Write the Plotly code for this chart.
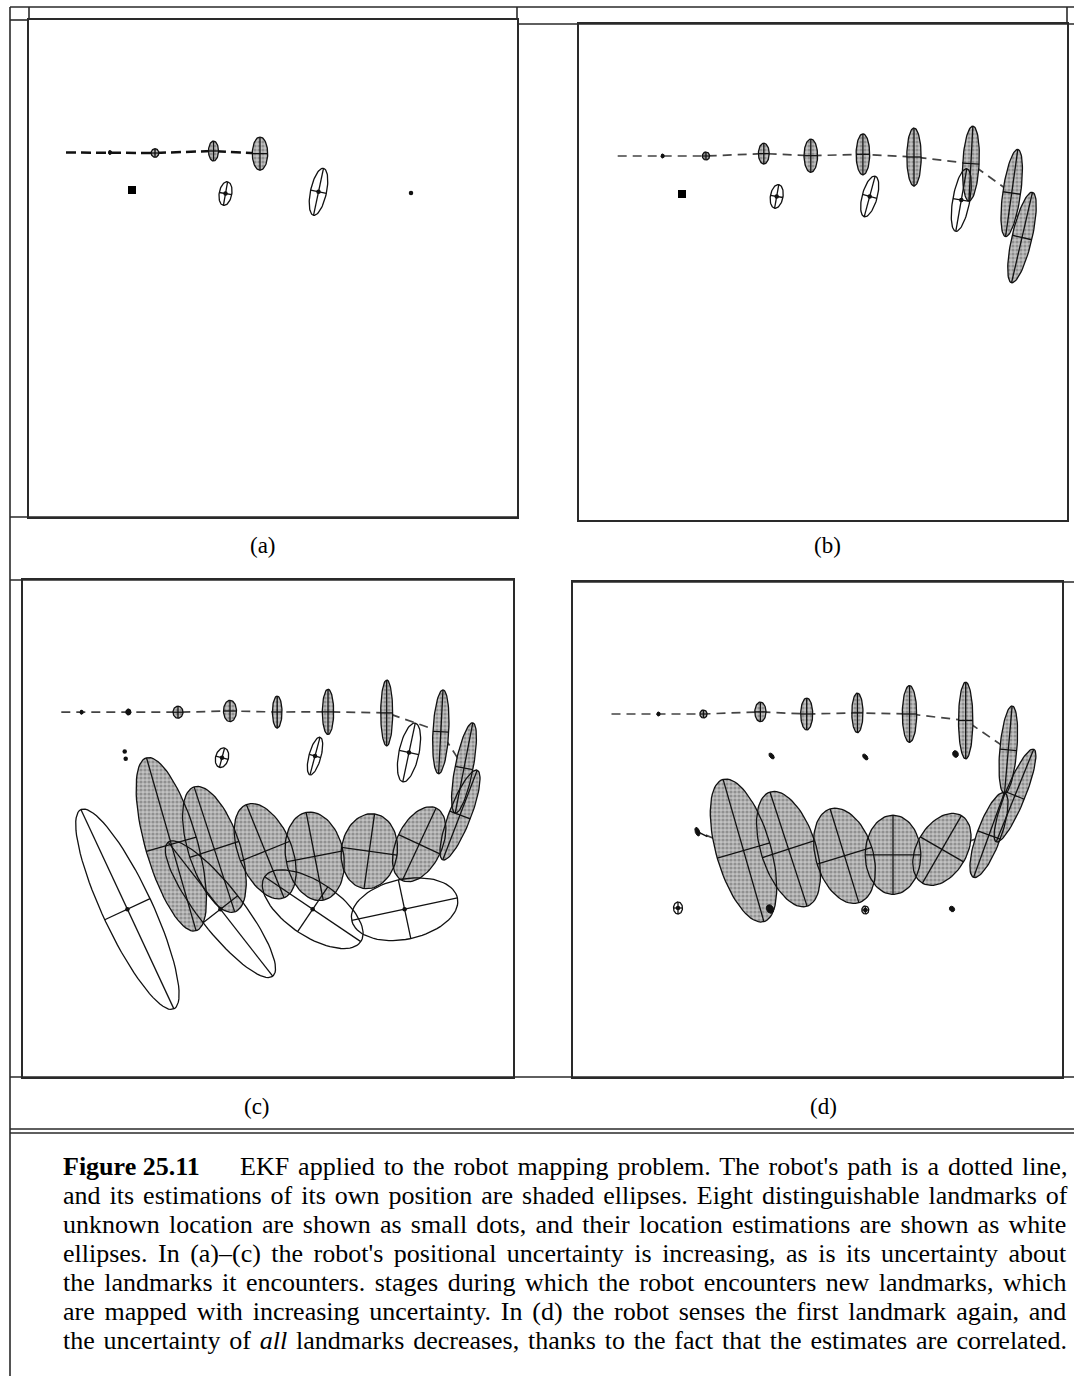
import numpy as np
import plotly.graph_objects as go

W, H = 1074, 1376

# ---- panel (a): robot pose ellipses (centre x/y, semi-axes, tilt of major axis from vertical, deg)
A_PATH_X0, A_PATH_Y0 = 37, 132.5
A_ROBOT_X = [81, 126, 184.5, 231]
A_ROBOT_Y = [132.5, 133, 131, 133.6]
A_ROBOT_A = [1.8, 4.3, 10, 16.6]
A_ROBOT_B = [1.4, 3.8, 5, 7.7]
A_ROBOT_ANG = [0, 0, 0, 0]
# landmark estimates (white ellipses)
A_EST_X = [196.5, 289.5]
A_EST_Y = [173.6, 171.8]
A_EST_A = [12, 24]
A_EST_B = [6.3, 8]
A_EST_ANG = [10, 12]
A_DOT_X = [196.5, 289.5, 382]
A_DOT_Y = [173.6, 171.8, 173]
A_SQ_X, A_SQ_Y = [103], [170]

# ---- panel (b)
B_PATH_X0, B_PATH_Y0 = 38.7, 132
B_ROBOT_X = [83.6, 127, 184.8, 231.8, 283.9, 335, 391.9, 432.7, 443]
B_ROBOT_Y = [132, 132, 129.6, 131.7, 130.3, 133, 139.6, 169, 213.5]
B_ROBOT_A = [1.8, 4, 10.4, 16.6, 20.5, 29, 37.5, 44, 46.4]
B_ROBOT_B = [1.4, 3.6, 5.4, 6.8, 6.8, 7.2, 8.2, 8.9, 10]
B_ROBOT_ANG = [0, 0, 0, 0, 0, 0, 3, 8, 13]
B_EST_X = [197.7, 290.7, 382.3]
B_EST_Y = [172.4, 172.4, 176]
B_EST_A = [12, 21, 31.8]
B_EST_B = [6.3, 7.5, 8.5]
B_EST_ANG = [10, 15, 10]
B_DOT_X = [197.7, 290.7, 382.3]
B_DOT_Y = [172.4, 172.4, 176]
B_SQ_X, B_SQ_Y = [103], [170]

# ---- panel (c)
C_PATH_X0, C_PATH_Y0 = 38.3, 132.2
C_ROBOT_X = [58.6, 105.4, 155, 207, 254.2, 305, 363.7, 417.8, 441, 437,
             396.2, 346.3, 291.7, 242.2, 191.4, 148.3]
C_ROBOT_Y = [132.2, 132, 132.2, 131, 132, 131.9, 132.9, 151.8, 188, 235,
             264.3, 271.2, 276.3, 271.2, 269.4, 264.3]
C_ROBOT_A = [1.8, 2.8, 6, 10.7, 16, 22.7, 33, 42, 46, 48,
             40, 37.7, 44.7, 50.3, 65.7, 90]
C_ROBOT_B = [1.4, 2.4, 5, 6.5, 4.8, 5.7, 6, 7.9, 9, 11,
             22.8, 28, 28.9, 26.6, 25.8, 26]
C_ROBOT_ANG = [0, 0, 0, 0, 0, 0, 0, 3, 11, 21, 25, 8, -11, -22, -18, -16]
C_EST_X = [199, 292, 386, 104.4, 197.4, 289.7, 381.6]
C_EST_Y = [177.7, 176, 172.5, 329.2, 329.2, 329.2, 329.2]
C_EST_A = [10, 19.5, 30, 110, 85, 58, 54]
C_EST_B = [6.4, 6, 10, 25, 22, 27, 30]
C_EST_ANG = [15, 15, 12, -25, -38, -56, 78]
C_DOT_X = [101.7, 102.7, 199, 292, 386, 104.4, 197.4, 289.7, 381.6]
C_DOT_Y = [171.5, 178.7, 177.7, 176, 172.5, 329.2, 329.2, 329.2, 329.2]

# ---- panel (d)
D_PATH_X0, D_PATH_Y0 = 38.5, 132
D_ROBOT_X = [85.5, 130.5, 187.4, 233.7, 284.4, 336.5, 392.7, 435.3, 442, 416,
             368.9, 320, 271.5, 215.5, 170.5]
D_ROBOT_Y = [132, 132, 129.9, 132, 130.9, 132, 138.5, 167.8, 213.5, 253,
             267.4, 272.8, 273.8, 267.1, 268.5]
D_ROBOT_A = [1.8, 4, 9.8, 16, 19.8, 28.4, 38.4, 44, 50, 45, 39, 39.6, 49, 60, 74]
D_ROBOT_B = [1.4, 3.6, 5.6, 6, 5.6, 7.2, 7.2, 8.5, 10, 12, 25, 27.8, 28.6, 27.4, 27.3]
D_ROBOT_ANG = [0, 0, 0, 0, 0, 0, 0, 5, 22, 20, 30, 0, -17, -18, -16]
D_END_X, D_END_Y = 124.4, 249.7
D_EST_X = [105, 292.3]
D_EST_Y = [326, 328]
D_EST_A = [6, 4]
D_EST_B = [4.5, 3.5]
D_EST_ANG = [0, 0]
D_DARK_X = [198.6, 292.3, 382.5, 197, 379, 124.4]
D_DARK_Y = [174, 175, 172, 327, 327, 249.7]
D_DARK_A = [3.5, 3.5, 3.5, 4.5, 3, 4.5]
D_DARK_B = [2, 2, 2.8, 3.5, 2.5, 2.2]
D_DARK_ANG = [-40, -40, -20, -30, -40, -20]
D_DOT_X = [105, 292.3]
D_DOT_Y = [326, 328]

CAPTION_HEAD = "EKF applied to the robot mapping problem. The robot's path is a dotted line,"
CAPTION = [
    "and its estimations of its own position are shaded ellipses. Eight distinguishable landmarks of",
    "unknown location are shown as small dots, and their location estimations are shown as white",
    "ellipses. In (a)\u2013(c) the robot's positional uncertainty is increasing, as is its uncertainty about",
    "the landmarks it encounters. stages during which the robot encounters new landmarks, which",
    "are mapped with increasing uncertainty. In (d) the robot senses the first landmark again, and",
    "the uncertainty of <i>all</i> landmarks decreases, thanks to the fact that the estimates are correlated.",
]
# extra px per word gap so the lines come out justified like the printed caption
HEAD_SPACING = 2.5
LINE_SPACING = [2.5, 2.7, 4.0, 3.0, 3.3, 2.3]


def ellipse(cx, cy, a, b, ang, n=80):
    t = np.linspace(0, 2 * np.pi, n)
    th = np.radians(ang)
    # major axis direction on screen (y grows downward), minor axis perpendicular
    ux, uy = np.sin(th), -np.cos(th)
    vx, vy = np.cos(th), np.sin(th)
    return cx + a * np.cos(t) * ux + b * np.sin(t) * vx, cy + a * np.cos(t) * uy + b * np.sin(t) * vy


def cross(cx, cy, a, b, ang):
    th = np.radians(ang)
    ux, uy = np.sin(th), -np.cos(th)
    vx, vy = np.cos(th), np.sin(th)
    return [([cx - a * ux, cx + a * ux], [cy - a * uy, cy + a * uy]),
            ([cx - b * vx, cx + b * vx], [cy - b * vy, cy + b * vy])]


def joined(parts):
    xs, ys = [], []
    for x, y in parts:
        xs += list(x) + [None]
        ys += list(y) + [None]
    return xs, ys


boxes = {'a': (29, 517, 20, 517), 'b': (579, 1067, 24, 520),
         'c': (23, 513, 580, 1077), 'd': (573, 1062, 582, 1077)}

panels = [
    dict(key='a', path0=(A_PATH_X0, A_PATH_Y0),
         robot=list(zip(A_ROBOT_X, A_ROBOT_Y, A_ROBOT_A, A_ROBOT_B, A_ROBOT_ANG)),
         est=list(zip(A_EST_X, A_EST_Y, A_EST_A, A_EST_B, A_EST_ANG)),
         dots=(A_DOT_X, A_DOT_Y), sq=(A_SQ_X, A_SQ_Y), dark=[], end=None,
         dash=dict(color='#111', width=2.5, dash='10px,5px')),
    dict(key='b', path0=(B_PATH_X0, B_PATH_Y0),
         robot=list(zip(B_ROBOT_X, B_ROBOT_Y, B_ROBOT_A, B_ROBOT_B, B_ROBOT_ANG)),
         est=list(zip(B_EST_X, B_EST_Y, B_EST_A, B_EST_B, B_EST_ANG)),
         dots=(B_DOT_X, B_DOT_Y), sq=(B_SQ_X, B_SQ_Y), dark=[], end=None,
         dash=dict(color='#444', width=1.7, dash='9px,6px')),
    dict(key='c', path0=(C_PATH_X0, C_PATH_Y0),
         robot=list(zip(C_ROBOT_X, C_ROBOT_Y, C_ROBOT_A, C_ROBOT_B, C_ROBOT_ANG)),
         est=list(zip(C_EST_X, C_EST_Y, C_EST_A, C_EST_B, C_EST_ANG)),
         dots=(C_DOT_X, C_DOT_Y), sq=([], []), dark=[], end=None,
         dash=dict(color='#444', width=1.7, dash='9px,6px')),
    dict(key='d', path0=(D_PATH_X0, D_PATH_Y0),
         robot=list(zip(D_ROBOT_X, D_ROBOT_Y, D_ROBOT_A, D_ROBOT_B, D_ROBOT_ANG)),
         est=list(zip(D_EST_X, D_EST_Y, D_EST_A, D_EST_B, D_EST_ANG)),
         dots=(D_DOT_X, D_DOT_Y), sq=([], []),
         dark=list(zip(D_DARK_X, D_DARK_Y, D_DARK_A, D_DARK_B, D_DARK_ANG)),
         end=(D_END_X, D_END_Y),
         dash=dict(color='#444', width=1.7, dash='9px,6px')),
]

fig = go.Figure()
layout_axes = {}

for i, p in enumerate(panels):
    sfx = '' if i == 0 else str(i + 1)
    xa, ya = 'x' + sfx, 'y' + sfx
    x0, x1, y0, y1 = boxes[p['key']]

    # robot path (dashed), through the pose estimates
    px = [p['path0'][0]] + [r[0] for r in p['robot']]
    py = [p['path0'][1]] + [r[1] for r in p['robot']]
    if p['end']:
        px.append(p['end'][0])
        py.append(p['end'][1])
    fig.add_trace(go.Scatter(x=px, y=py, mode='lines', line=p['dash'],
                             xaxis=xa, yaxis=ya, hoverinfo='skip'))

    # shaded pose ellipses
    fx, fy = joined([ellipse(*r) for r in p['robot']])
    fig.add_trace(go.Scatter(x=fx, y=fy, mode='lines', fill='toself',
                             fillcolor='#b4b4b4',
                             fillpattern=dict(shape='.', fgcolor='#5e5e5e', bgcolor='#c2c2c2',
                                              size=4, solidity=0.5),
                             line=dict(width=0), xaxis=xa, yaxis=ya, hoverinfo='skip'))

    # dark small blobs (tiny early poses print as solid specks)
    dark = p['dark'] + [r for r in p['robot'] if r[2] < 3]
    if dark:
        kx, ky = joined([ellipse(*r) for r in dark])
        fig.add_trace(go.Scatter(x=kx, y=ky, mode='lines', fill='toself', fillcolor='#111',
                                 line=dict(color='#111', width=1), xaxis=xa, yaxis=ya,
                                 hoverinfo='skip'))

    # outlines and principal axes of all ellipses
    parts = []
    for r in p['robot'] + p['est']:
        parts.append(ellipse(*r))
        if r[2] > 3:
            parts += cross(*r)
    ox, oy = joined(parts)
    fig.add_trace(go.Scatter(x=ox, y=oy, mode='lines', line=dict(color='#111', width=1.3),
                             xaxis=xa, yaxis=ya, hoverinfo='skip'))
    if p['end']:
        fig.add_trace(go.Scatter(x=[p['end'][0], p['end'][0] + 10], y=[p['end'][1], p['end'][1] + 5],
                                 mode='lines', line=dict(color='#111', width=1.5),
                                 xaxis=xa, yaxis=ya, hoverinfo='skip'))

    # landmark dots and squares
    fig.add_trace(go.Scatter(x=p['dots'][0], y=p['dots'][1], mode='markers',
                             marker=dict(color='#111', size=4.5), xaxis=xa, yaxis=ya,
                             hoverinfo='skip'))
    if p['sq'][0]:
        fig.add_trace(go.Scatter(x=p['sq'][0], y=p['sq'][1], mode='markers',
                                 marker=dict(color='#000', size=8, symbol='square'),
                                 xaxis=xa, yaxis=ya, hoverinfo='skip'))

    ax = dict(showgrid=False, zeroline=False, showticklabels=False, ticks='',
              showline=True, mirror=True, linecolor='#2a2a2a', linewidth=1.6, fixedrange=True)
    layout_axes['xaxis' + sfx] = dict(ax, domain=[x0 / W, x1 / W], range=[0, x1 - x0], anchor=ya)
    layout_axes['yaxis' + sfx] = dict(ax, domain=[1 - y1 / H, 1 - y0 / H], range=[y1 - y0, 0], anchor=xa)

fig.update_layout(**layout_axes)

# frame rules of the printed figure (pixel positions -> paper)
hlines = [(10, 1074, 7), (10, 29, 20), (517, 1074, 24), (10, 517, 517), (10, 513, 580),
          (573, 1074, 582), (10, 1074, 1077), (10, 1074, 1129), (10, 1074, 1133)]
vlines = [(10, 7, 1376), (29, 7, 20), (517, 7, 20), (1067, 7, 24)]
shapes = []
for xa_, xb_, yy in hlines:
    shapes.append(dict(type='line', xref='paper', yref='paper', x0=xa_ / W, x1=xb_ / W,
                       y0=1 - yy / H, y1=1 - yy / H, line=dict(color='#2a2a2a', width=1.6)))
for xx, ya_, yb_ in vlines:
    shapes.append(dict(type='line', xref='paper', yref='paper', x0=xx / W, x1=xx / W,
                       y0=1 - ya_ / H, y1=1 - yb_ / H, line=dict(color='#2a2a2a', width=1.6)))

serif = 'Liberation Serif, Times New Roman, serif'


def text_note(text, px_x, px_y, size, anchor='left'):
    return dict(text=text, x=px_x / W, y=1 - px_y / H, xref='paper', yref='paper',
                xanchor=anchor, yanchor='middle', showarrow=False,
                font=dict(family=serif, size=size, color='#000'))


annotations = []
for lab, lx, ly in [('(a)', 263, 546), ('(b)', 827, 546), ('(c)', 257, 1106), ('(d)', 823, 1106)]:
    annotations.append(text_note(lab, lx, ly, 23, anchor='center'))
annotations.append(text_note('<b>Figure 25.11</b>', 61, 1166, 26))
annotations.append(text_note('<span style="word-spacing:%.1fpx">%s</span>' % (HEAD_SPACING, CAPTION_HEAD),
                             238, 1166, 26))
for k, line in enumerate(CAPTION):
    annotations.append(text_note('<span style="word-spacing:%.1fpx">%s</span>' % (LINE_SPACING[k], line),
                                 61, 1195 + 29 * k, 26))

fig.update_layout(width=W, height=H, margin=dict(l=0, r=0, t=0, b=0), showlegend=False,
                  paper_bgcolor='white', plot_bgcolor='white', shapes=shapes, annotations=annotations)

# page body has a default margin; drop it so the figure sits at the window origin
fig.write_html("out.html", config={'displayModeBar': False},
               post_script="document.body.style.margin='0px';")
